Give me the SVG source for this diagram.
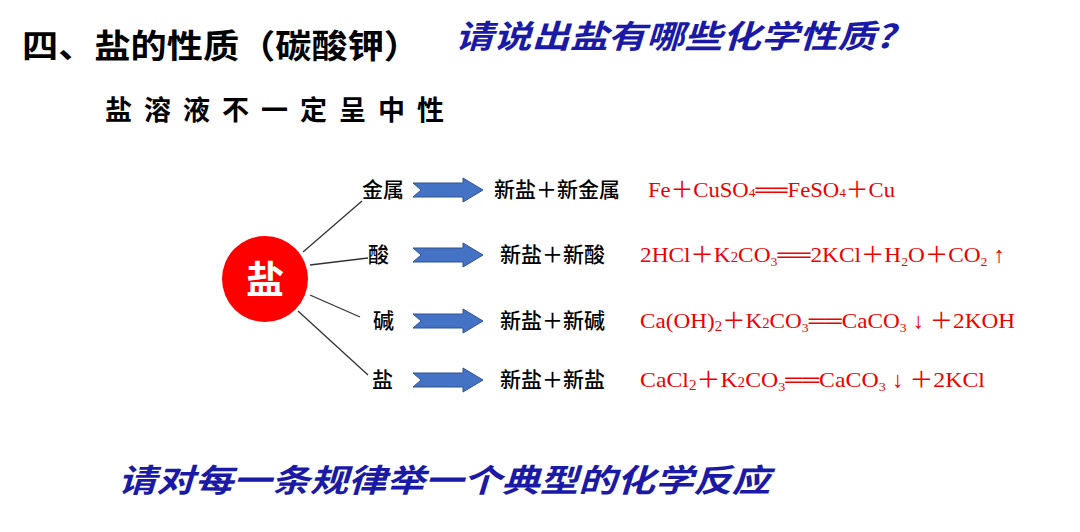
<svg xmlns="http://www.w3.org/2000/svg" width="1080" height="532" viewBox="0 0 1080 532">
<style>
.t{font-family:"Liberation Sans","Noto Sans CJK SC",sans-serif;font-weight:bold;fill:#000}
.b{font-family:"Noto Sans CJK SC",sans-serif;font-weight:bold;font-style:italic;fill:#1a1aa6}
.l{font-family:"Noto Sans CJK SC",sans-serif;font-size:21px;font-weight:500;fill:#000}
.r{font-family:"Liberation Serif","Noto Sans CJK SC",serif;font-size:22px;fill:#e00}
.a{fill:#4472c4;stroke:#2f528f;stroke-width:1}
</style>
<defs><path id="ar" d="M0,-7 H50 V-12 L70,0 L50,12 V7 H0 L8,0 Z"/></defs>
<rect width="1080" height="532" fill="#fff"/>
<text class="t" x="22" y="58" font-size="33" textLength="398" lengthAdjust="spacingAndGlyphs">四、盐的性质（碳酸钾）</text>
<text class="b" x="455" y="48" font-size="32" textLength="440" lengthAdjust="spacingAndGlyphs">请说出盐有哪些化学性质?</text>
<text class="t" x="105" y="120" font-size="27" letter-spacing="12">盐溶液不一定呈中性</text>
<text class="b" x="118" y="492" font-size="32" textLength="652" lengthAdjust="spacingAndGlyphs">请对每一条规律举一个典型的化学反应</text>
<g id="connectors" stroke="#333" stroke-width="1.3">
<line x1="303" y1="252" x2="362" y2="201"/>
<line x1="310" y1="265" x2="368" y2="258"/>
<line x1="310" y1="295" x2="360" y2="317"/>
<line x1="298" y1="311" x2="368" y2="375"/>
<use href="#ar" class="a" x="413" y="190"/>
<use href="#ar" class="a" x="413" y="255"/>
<use href="#ar" class="a" x="413" y="321"/>
<use href="#ar" class="a" x="413" y="380"/>
</g>
<g id="salt"><circle cx="265" cy="279" r="43" fill="#f00"/><text x="265" y="293" font-size="38" font-family="Noto Sans CJK SC,sans-serif" font-weight="bold" fill="#fff" text-anchor="middle">盐</text></g>
<g id="n1"><text class="l" x="362" y="197">金属</text></g>
<g id="n2"><text class="l" x="368" y="262">酸</text></g>
<g id="n3"><text class="l" x="373" y="328">碱</text></g>
<g id="n4"><text class="l" x="372" y="387">盐</text></g>
<g id="p1"><text class="l" x="494" y="197">新盐＋新金属</text></g>
<g id="p2"><text class="l" x="500" y="262">新盐＋新酸</text></g>
<g id="p3"><text class="l" x="500" y="328">新盐＋新碱</text></g>
<g id="p4"><text class="l" x="500" y="387">新盐＋新盐</text></g>
<g id="e1"><text class="r" x="648" y="197" textLength="247" lengthAdjust="spacingAndGlyphs">Fe＋CuSO<tspan font-size="13">4</tspan>══FeSO<tspan font-size="13">4</tspan>＋Cu</text></g>
<g id="e2"><text class="r" x="640" y="262" textLength="365" lengthAdjust="spacingAndGlyphs">2HCl＋K<tspan font-size="14">2</tspan>CO<tspan font-size="13" dy="4">3</tspan><tspan dy="-4">══2KCl＋H</tspan><tspan font-size="13" dy="4">2</tspan><tspan dy="-4">O＋CO</tspan><tspan font-size="13" dy="4">2</tspan><tspan dy="-4"> ↑</tspan></text></g>
<g id="e3"><text class="r" x="640" y="328" textLength="375" lengthAdjust="spacingAndGlyphs">Ca(OH)<tspan font-size="14" dy="3">2</tspan><tspan dy="-3">＋K</tspan><tspan font-size="14">2</tspan>CO<tspan font-size="13" dy="4">3</tspan><tspan dy="-4">══CaCO</tspan><tspan font-size="13" dy="4">3</tspan><tspan dy="-4"> ↓ ＋2KOH</tspan></text></g>
<g id="e4"><text class="r" x="640" y="387" textLength="345" lengthAdjust="spacingAndGlyphs">CaCl<tspan font-size="14" dy="3">2</tspan><tspan dy="-3">＋K</tspan><tspan font-size="14">2</tspan>CO<tspan font-size="13" dy="4">3</tspan><tspan dy="-4">══CaCO</tspan><tspan font-size="13" dy="4">3</tspan><tspan dy="-4"> ↓ ＋2KCl</tspan></text></g>
</svg>
